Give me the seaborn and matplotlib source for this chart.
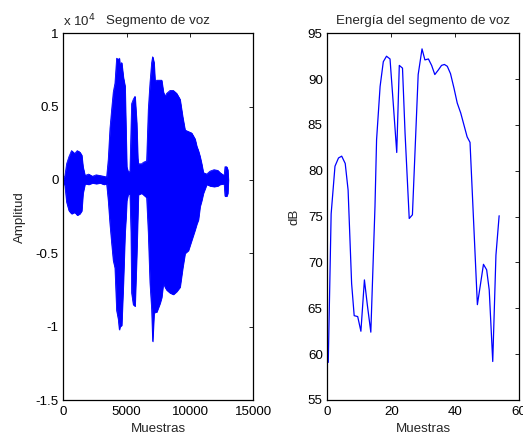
import numpy as np
import pandas as pd
import matplotlib
matplotlib.use("Agg")
import matplotlib.pyplot as plt
import seaborn as sns

# --- Speech segment: amplitude envelope (raw sample units) ---
env_samples = [0, 130, 260, 450, 650, 900, 1100, 1300, 1450, 1550, 1710, 2000, 2300,
               2600, 2900, 3200, 3420, 3550, 3684, 3816, 3947, 4079, 4211, 4342, 4421,
               4474, 4605, 4737, 4868, 4947, 5005, 5132, 5263, 5345, 5395, 5526, 5658,
               5789, 5874, 5921, 6184, 6316, 6579, 6711, 6842, 6974, 7053, 7158, 7239,
               7368, 7632, 7763, 7897, 8026, 8158, 8424, 8684, 8947, 9211, 9421, 9608,
               9871, 10132, 10395, 10532, 10661, 10792, 10921, 11053, 11316, 11581,
               11900, 12200, 12370, 12700, 12765, 12900, 12980, 13026]
env_upper = [0, 300, 1100, 1600, 2000, 1800, 2000, 1900, 1700, 900, 300, 400, 250,
             350, 300, 250, 200, 1400, 3500, 4800, 6000, 6600, 8300, 8200, 8300,
             7800, 8000, 7000, 6400, 3200, 900, 500, 600, 3500, 5200, 5500, 5700,
             3900, 1500, 1100, 1100, 1200, 1300, 4800, 6600, 8000, 8400, 8000, 6700,
             6800, 6800, 6800, 6000, 5700, 5900, 6100, 6100, 5900, 5500, 4300, 3400,
             3300, 3200, 2800, 2300, 2000, 1600, 1100, 500, 400, 600,
             700, 650, 500, 300, 900, 900, 700, 0]
env_lower = [0, -400, -1500, -2100, -2300, -2200, -2400, -2300, -2100, -900, -250, -300, -200,
             -250, -200, -300, -250, -1400, -3000, -4300, -5500, -6000, -8900, -9500, -10200,
             -10000, -9900, -7000, -3600, -2500, -1400, -900, -1000, -3600, -7700, -8500, -8600,
             -5200, -2500, -1000, -900, -1000, -1200, -3600, -7000, -8800, -11000, -9100, -9000,
             -9000, -8400, -8000, -7000, -7300, -7500, -7700, -7800, -7600, -7300, -6000, -5000,
             -4800, -4100, -3400, -3000, -2700, -1800, -1400, -900, -300, -400,
             -450, -400, -300, -250, -1100, -1100, -900, 0]

# --- Energy of the speech segment (dB per frame) ---
frame_pos = [0.3, 1.2, 2.4, 3.5, 4.5, 5.6, 6.5, 7.6, 8.4, 9.5, 10.5, 11.6, 12.5, 13.6,
             14.9, 15.4, 16.5, 17.5, 18.5, 19.6, 20.6, 21.7, 22.5, 23.5, 24.3, 25.6,
             26.6, 28.4, 29.6, 30.5, 31.6, 32.6, 33.6, 34.7, 35.7, 36.6, 37.5, 38.5,
             39.6, 40.6, 41.7, 42.7, 43.7, 44.6, 46.9, 47.9, 48.8, 49.8, 50.6, 51.7,
             52.7, 53.7]
energy_db = [59.1, 75.3, 80.5, 81.4, 81.6, 80.8, 77.9, 67.7, 64.2, 64.1, 62.5, 68.1,
             65.4, 62.4, 76.1, 83.4, 89.2, 91.9, 92.5, 92.2, 87.4, 82.0, 91.5, 91.2,
             84.1, 74.8, 75.2, 90.5, 93.3, 92.1, 92.2, 91.5, 90.5, 91.0, 91.5, 91.6,
             91.4, 90.6, 89.0, 87.4, 86.3, 85.0, 83.7, 83.1, 65.4, 67.7, 69.8, 69.2,
             67.0, 59.2, 70.8, 75.1]

amp_ticks = [-1.5, -1, -0.5, 0, 0.5, 1]
amp_tick_labels = ["-1.5", "-1", "-0.5", "0", "0.5", "1"]
sample_ticks = [0, 5000, 10000, 15000]
frame_ticks = [0, 20, 40, 60]
db_ticks = [55, 60, 65, 70, 75, 80, 85, 90, 95]

sns.set_style("white")
plt.rcParams["font.family"] = ["Liberation Sans", "DejaVu Sans"]
plt.rcParams["axes.unicode_minus"] = False
plt.rcParams["font.size"] = 9.6

W, H = 523, 436
fig = plt.figure(figsize=(W / 100, H / 100), dpi=100)
fig.patch.set_facecolor("white")


def px_axes(left, top, right, bottom):
    return fig.add_axes([left / W, 1 - bottom / H, (right - left) / W, (bottom - top) / H])


ax1 = px_axes(63.3, 33.3, 253.3, 400)
ax2 = px_axes(327.3, 33.3, 519.3, 400)

blue = (0, 0, 1)

# waveform drawn as its amplitude envelope
wave = pd.DataFrame({
    "Muestras": env_samples,
    "upper": np.array(env_upper) / 1e4,
    "lower": np.array(env_lower) / 1e4,
})
ax1.fill_between(wave["Muestras"], wave["lower"], wave["upper"],
                 color=blue, linewidth=0.6, edgecolor=blue)
sns.lineplot(data=wave, x="Muestras", y="upper", ax=ax1, color=blue,
             lw=0.6, estimator=None, sort=False)
sns.lineplot(data=wave, x="Muestras", y="lower", ax=ax1, color=blue,
             lw=0.6, estimator=None, sort=False)

energy = pd.DataFrame({"Muestras": frame_pos, "dB": energy_db})
sns.lineplot(data=energy, x="Muestras", y="dB", ax=ax2, color=blue,
             lw=0.9, estimator=None, sort=False)

ax1.set_xlim(0, 15000)
ax1.set_ylim(-1.5, 1)
ax1.set_xticks(sample_ticks)
ax1.set_xticklabels([str(t) for t in sample_ticks])
ax1.set_yticks(amp_ticks)
ax1.set_yticklabels(amp_tick_labels)

ax2.set_xlim(0, 60)
ax2.set_ylim(55, 95)
ax2.set_xticks(frame_ticks)
ax2.set_xticklabels([str(t) for t in frame_ticks])
ax2.set_yticks(db_ticks)
ax2.set_yticklabels([str(t) for t in db_ticks])

for ax in (ax1, ax2):
    for sp in ax.spines.values():
        sp.set_visible(True)
        sp.set_color("black")
        sp.set_linewidth(0.9)
    ax.tick_params(direction="in", top=True, right=True, length=3, width=0.6,
                   colors="black", labelsize=9.6, pad=3.2)
    ax.tick_params(axis="x", pad=4.0)
    ax.set_facecolor("white")
    ax.grid(False)
    ax.set_xlabel("Muestras", fontsize=9.6)
    ax.xaxis.set_label_coords(0.5, -0.062)
    ax.xaxis.label.set_va("top")

ax1.set_ylabel("Amplitud", fontsize=9.6)
ax1.yaxis.set_label_coords(-0.199, 0.5)
ax2.set_ylabel("dB", fontsize=9.6)
ax2.yaxis.set_label_coords(-0.142, 0.5)

ax1.set_title("Segmento de voz", fontsize=9.6, pad=7)
ax2.set_title("Energía del segmento de voz", fontsize=9.6, pad=7)

# scale factor of the amplitude axis
fig.text(63 / W, 1 - 26 / H, r"x 10$^4$", fontsize=9.6, ha="left", va="baseline")

fig.savefig("out.png", dpi=100, facecolor="white")
